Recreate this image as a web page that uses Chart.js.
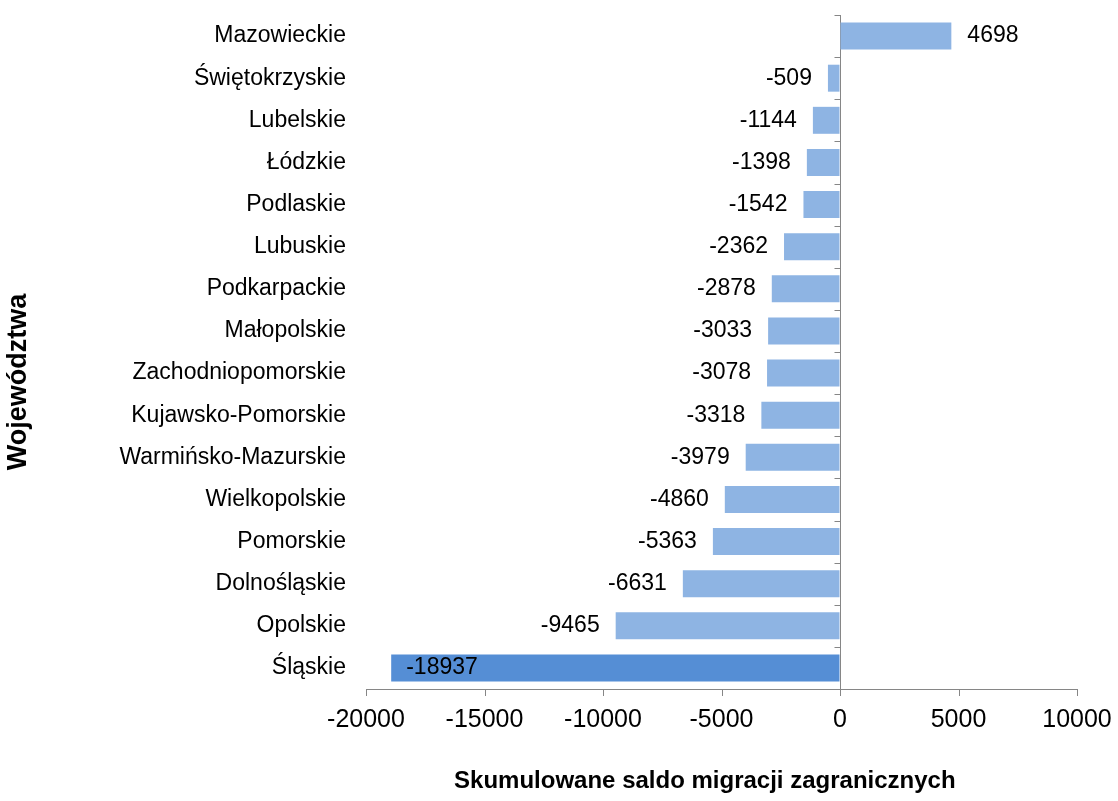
<!DOCTYPE html>
<html>
<head>
<meta charset="utf-8">
<script src="https://cdn.jsdelivr.net/npm/chart.js@4.4.1/dist/chart.umd.min.js"></script>
<style>
  html, body { margin: 0; padding: 0; background: #fff; }
  #wrap { width: 1118px; height: 801px; position: relative; }
</style>
</head>
<body>
<div id="wrap"><canvas id="migChart"></canvas></div>
<script>
const regions = [
    'Mazowieckie', 'Świętokrzyskie', 'Lubelskie', 'Łódzkie', 'Podlaskie',
    'Lubuskie', 'Podkarpackie', 'Małopolskie', 'Zachodniopomorskie',
    'Kujawsko-Pomorskie', 'Warmińsko-Mazurskie', 'Wielkopolskie',
    'Pomorskie', 'Dolnośląskie', 'Opolskie', 'Śląskie'
];
const saldo = [
    4698, -509, -1144, -1398, -1542, -2362, -2878, -3033, -3078,
    -3318, -3979, -4860, -5363, -6631, -9465, -18937
];
const xTicks = [-20000, -15000, -10000, -5000, 0, 5000, 10000];

const AXIS = '#868686';
const FONT = '"Liberation Sans", Arial, sans-serif';

// najniższa wartość wyróżniona ciemniejszym kolorem
const minVal = Math.min(...saldo);
const barColors = saldo.map(v => v === minVal ? '#558ED5' : '#8EB4E3');

// kreski osi: w zerze między kategoriami i pod osią X
const axisTicks = {
    id: 'axisTicks',
    afterDatasetsDraw(chart) {
        const {ctx, chartArea, scales: {x, y}} = chart;
        const px = Math.round(x.getPixelForValue(0)) + 0.5;
        ctx.save();
        ctx.strokeStyle = AXIS;
        ctx.lineWidth = 1;
        ctx.beginPath();
        for (let i = 0; i <= regions.length; i++) {
            const py = Math.round(y.getPixelForValue(i - 0.5)) + 0.5;
            ctx.moveTo(px - 6, py);
            ctx.lineTo(px, py);
        }
        const by = Math.round(chartArea.bottom);
        xTicks.forEach(v => {
            const tx = Math.round(x.getPixelForValue(v)) + 0.5;
            ctx.moveTo(tx, by);
            ctx.lineTo(tx, by + 7);
        });
        ctx.stroke();
        ctx.restore();
    }
};

// etykiety wartości przy końcach słupków
const valueLabels = {
    id: 'valueLabels',
    afterDatasetsDraw(chart) {
        const {ctx, chartArea} = chart;
        const meta = chart.getDatasetMeta(0);
        ctx.save();
        ctx.font = '23px ' + FONT;
        ctx.fillStyle = '#000';
        ctx.textBaseline = 'middle';
        meta.data.forEach((bar, i) => {
            const v = saldo[i];
            const txt = String(v);
            const w = ctx.measureText(txt).width;
            if (v >= 0) {
                ctx.textAlign = 'left';
                ctx.fillText(txt, bar.x + 16, bar.y);
            } else if (bar.x - 16 - w < chartArea.left) {
                ctx.textAlign = 'left';
                ctx.fillText(txt, bar.x + 15, bar.y);
            } else {
                ctx.textAlign = 'right';
                ctx.fillText(txt, bar.x - 16, bar.y);
            }
        });
        ctx.restore();
    }
};

new Chart(document.getElementById('migChart'), {
    type: 'bar',
    data: {
        labels: regions,
        datasets: [{
            data: saldo,
            backgroundColor: barColors,
            borderWidth: 0,
            categoryPercentage: 1,
            barPercentage: 0.64
        }]
    },
    options: {
        indexAxis: 'y',
        responsive: true,
        maintainAspectRatio: false,
        animation: false,
        layout: { padding: { top: 15, right: 41, bottom: 0, left: 0 } },
        plugins: {
            legend: { display: false },
            tooltip: { enabled: false }
        },
        scales: {
            x: {
                min: -20000,
                max: 10000,
                afterBuildTicks: s => { s.ticks = xTicks.map(v => ({value: v})); },
                afterFit: s => { s.height = 112; },
                grid: {
                    drawOnChartArea: true,
                    color: c => c.tick && c.tick.value === 0 ? AXIS : 'rgba(0,0,0,0)',
                    tickColor: 'rgba(0,0,0,0)',
                    tickLength: 12
                },
                border: { display: true, color: AXIS },
                ticks: {
                    color: '#000',
                    font: { family: FONT, size: 25 },
                    padding: 4,
                    maxRotation: 0,
                    callback: v => String(v)
                },
                title: {
                    display: true,
                    text: 'Skumulowane saldo migracji zagranicznych     ',
                    color: '#000',
                    font: { family: FONT, size: 24, weight: 'bold' },
                    padding: { top: 0, bottom: 5 }
                }
            },
            y: {
                afterFit: s => { s.width = 366; },
                grid: { display: false, drawTicks: true, tickLength: 20, tickColor: 'rgba(0,0,0,0)' },
                border: { display: false },
                ticks: {
                    color: '#000',
                    font: { family: FONT, size: 23 },
                    padding: 0,
                    autoSkip: false
                },
                title: {
                    display: true,
                    text: 'Województwa        ',
                    color: '#000',
                    font: { family: FONT, size: 27, weight: 'bold' },
                    padding: { top: 2, bottom: 0 }
                }
            }
        }
    },
    plugins: [axisTicks, valueLabels]
});
</script>
</body>
</html>
